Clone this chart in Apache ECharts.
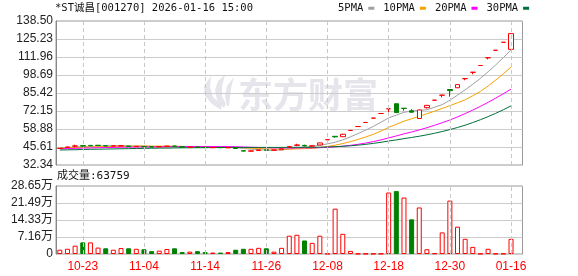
<!DOCTYPE html>
<html><head><meta charset="utf-8">
<script src="https://cdn.jsdelivr.net/npm/echarts@6/dist/echarts.min.js"></script>
<style>html,body{margin:0;padding:0;background:#fff}#c{width:578px;height:276px}</style>
</head><body><div id="c"></div>
<script>
const stockTitle = '*ST诚昌[001270] 2026-01-16 15:00';
const dates = [
 '10-20','10-21','10-22','10-23','10-24','10-27','10-28','10-29','10-30','10-31',
 '11-03','11-04','11-05','11-06','11-07','11-10','11-11','11-12','11-13','11-14',
 '11-17','11-18','11-19','11-20','11-21','11-24','11-25','11-26','11-27','11-28',
 '12-01','12-02','12-03','12-04','12-05','12-08','12-09','12-10','12-11','12-12',
 '12-15','12-16','12-17','12-18','12-19','12-22','12-23','12-24','12-25','12-26',
 '12-29','12-30','12-31','01-05','01-06','01-07','01-08','01-09','01-12','01-16'];
const opens = [
 44.5,45.3,46.2,46.6,46.8,46.9,46.5,46.3,46.4,46.3,
 45.9,46.0,45.8,45.7,46.0,46.3,45.8,45.4,45.6,45.4,
 45.1,45.3,45.0,45.1,42.9,42.5,43.0,43.5,43.2,43.6,
 45.6,46.8,46.8,46.3,47.1,51.0,53.5,53.2,57.8,60.7,
 63.7,66.9,70.3,73.8,77.5,74.2,72.3,66.6,74.6,80.1,
 83.8,88.0,89.3,96.0,100.7,105.7,111.4,116.9,122.8,117.6];
const closes = [
 44.7,45.6,46.4,46.3,46.6,46.7,46.4,46.5,46.6,46.0,
 46.1,45.8,45.6,46.0,46.3,46.1,45.5,45.6,45.4,45.2,
 45.3,45.1,45.2,44.5,42.6,42.8,43.4,43.2,43.5,44.3,
 45.9,47.1,46.4,46.5,48.6,51.0,53.1,55.0,57.8,60.7,
 63.7,66.9,70.3,73.8,71.0,74.0,71.3,72.9,76.3,80.1,
 83.8,87.2,91.6,96.0,100.7,105.7,111.4,116.9,122.8,129.2];
const lows = [
 44.3,45.0,45.4,45.9,46.2,46.5,46.2,46.2,46.3,45.8,
 45.8,45.6,45.5,45.6,45.9,45.9,45.4,45.3,45.3,45.1,
 45.0,45.0,44.9,44.3,42.4,42.2,42.9,43.0,43.1,43.5,
 45.2,46.2,46.0,46.0,47.0,51.0,52.5,53.0,57.8,60.7,
 63.7,66.9,70.3,70.6,70.9,72.4,71.0,66.5,74.0,80.1,
 82.2,82.7,89.0,94.8,99.2,105.7,110.2,116.9,122.8,117.6];
const highs = [
 44.9,45.9,47.3,47.0,47.1,47.0,46.7,46.7,46.8,46.4,
 46.3,46.1,45.9,46.1,46.4,46.6,45.9,45.8,45.7,45.5,
 45.4,45.4,45.3,45.2,43.1,42.9,43.6,43.6,43.7,44.5,
 46.4,48.0,47.3,46.8,48.8,51.0,53.6,55.3,57.8,60.7,
 63.7,66.9,70.3,73.8,77.5,74.4,73.4,73.0,76.5,80.1,
 83.8,88.0,91.7,96.0,100.7,105.7,111.4,116.9,122.8,129.2];
const volumes = [
 18000,22000,35000,49000,49000,27000,24000,18000,25000,24000,
 22000,20000,12000,14000,21000,24000,8000,10000,12000,8000,
 6000,6000,8000,18000,22000,22000,26000,24000,10000,26000,
 77000,81000,57000,47000,77000,1500,191000,85000,13000,1500,
 1200,1200,1200,259000,265000,238000,146000,196000,20000,3000,
 91000,225000,115000,64000,30000,1500,22000,1500,1500,63759];
// MA values for the first days (window not yet full)
const ma5Head = [45.0,45.3,45.6,45.8];
const ma10Head = [44.6,44.9,45.2,45.4,45.6,45.8,45.9,46.0,46.1];
const ma20Head = [44.3,44.4,44.6,44.8,44.9,45.1,45.2,45.3,45.5,45.5,45.6,45.7,45.7,45.8,45.8,45.9,45.9,46.0,46.0];
const ma30Head = [43.4,43.5,43.6,43.8,43.9,44.0,44.1,44.2,44.3,44.4,44.5,44.6,44.7,44.8,44.8,44.9,45.0,45.0,45.1,45.1,45.2,45.2,45.3,45.3,45.3,45.3,45.3,45.3,45.3];
const maNames = ['5PMA','10PMA','20PMA','30PMA'];
const priceTicks = [32.34,45.61,58.88,72.15,85.42,98.69,111.96,125.23,138.50];
const volTicks = [0,7.16,14.33,21.49,28.65];          // in 万
const volTickLabels = ['0','7.16万','14.33万','21.49万','28.65万'];
const labelDates = ['10-23','11-04','11-14','11-26','12-08','12-18','12-30','01-16'];

function movingAvg(n, head) {
  return closes.map((c, i) => {
    if (i < n - 1) return head[i];
    let s = 0;
    for (let k = i - n + 1; k <= i; k++) s += closes[k];
    return +(s / n).toFixed(2);
  });
}
const maData = [movingAvg(5, ma5Head), movingAvg(10, ma10Head), movingAvg(20, ma20Head), movingAvg(30, ma30Head)];
const maColors = ['#a0a0a0', '#f5a200', '#ff00ff', '#00703a'];

const cats = dates.concat(['']);
const candle = dates.map((d, i) => [opens[i], closes[i], lows[i], highs[i]]);
const RED = '#ff0000', GREEN = '#008000';
const volData = volumes.map((v, i) => {
  const up = i === 0 ? closes[i] >= opens[i] : closes[i] >= closes[i - 1];
  return { value: v, itemStyle: up ? { color: '#fff', borderColor: RED, borderWidth: 1 } : { color: GREEN, borderColor: GREEN, borderWidth: 1 } };
});

const pMin = priceTicks[0], pMax = priceTicks[priceTicks.length - 1];
const pInt = (pMax - pMin) / (priceTicks.length - 1);
const vMax = volTicks[volTicks.length - 1] * 10000;
const vInt = vMax / (volTicks.length - 1);

const mono = '"DejaVu Sans Mono", "Noto Sans CJK SC", monospace';
const sans = '"Liberation Sans", Arial, "Noto Sans CJK SC", sans-serif';
const dashLines = {
  silent: true, symbol: ['none', 'none'], label: { show: false },
  lineStyle: { color: '#c8c8c8', type: [4, 3], width: 1 },
  emphasis: { disabled: true },
  data: labelDates.map(d => ({ xAxis: d }))
};
const wmColor = '#e5e5eb';
const logoBands = [
  [[221,110],[212,104],[205,96],[204,86],[211,76],[210,87],[213,97],[222,105]],
  [[224,108],[217,100],[215,90],[218,81],[225,75],[222,86],[222,96],[226,104]],
  [[227,106],[225,96],[227,86],[234,77],[231,88],[230,97],[229,106]]
];

const chart = echarts.init(document.getElementById('c'), null, { renderer: 'canvas' });
chart.setOption({
  animation: false,
  backgroundColor: '#fff',
  title: [
    { text: stockTitle, left: 55, top: 3, padding: 0, textStyle: { fontSize: 10.5, fontWeight: 'normal', color: '#111', fontFamily: mono } },
    { text: '成交量:' + volumes[volumes.length - 1], left: 57, top: 171, padding: 0, textStyle: { fontSize: 11, fontWeight: 'normal', color: '#111', fontFamily: mono } }
  ],
  legend: {
    left: 338, top: 3, padding: 0, itemGap: 9, itemWidth: 6, itemHeight: 3, align: 'right',
    textStyle: { fontSize: 10.5, color: '#111', fontFamily: mono },
    data: maNames.map(n => ({ name: n, icon: 'rect' }))
  },
  graphic: {
    z: -1,
    elements: [
      { type: 'text', left: 238, top: 77, silent: true,
        style: { text: '东方财富', fontSize: 35, fontWeight: 'bold', fontFamily: '"Noto Sans CJK SC"', fill: wmColor } }
    ].concat(logoBands.map(pts => ({ type: 'polygon', silent: true, shape: { points: pts }, style: { fill: wmColor } })))
  },
  grid: [
    { left: 56, right: 55.5, top: 21, height: 144, show: true, borderColor: '#999', borderWidth: 1, backgroundColor: 'transparent' },
    { left: 56, right: 55.5, top: 186, height: 68, show: true, borderColor: '#999', borderWidth: 1, backgroundColor: 'transparent' }
  ],
  xAxis: [
    { type: 'category', gridIndex: 0, data: cats, boundaryGap: true,
      axisLine: { show: false }, axisTick: { show: false }, axisLabel: { show: false }, splitLine: { show: false } },
    { type: 'category', gridIndex: 1, data: cats, boundaryGap: true,
      axisLine: { show: false }, axisTick: { show: false }, splitLine: { show: false },
      axisLabel: { show: true, interval: (idx, val) => labelDates.indexOf(val) >= 0, color: RED, fontSize: 12, fontFamily: sans, margin: 7 } }
  ],
  yAxis: [
    { type: 'value', gridIndex: 0, min: pMin, max: pMax, interval: pInt,
      axisLine: { show: true, lineStyle: { color: '#888' } }, axisTick: { show: false },
      axisLabel: { color: '#222', fontSize: 12, fontFamily: sans, margin: 3,
        formatter: v => priceTicks[Math.round((v - pMin) / pInt)].toFixed(2) },
      splitLine: { show: true, lineStyle: { color: '#cccccc', width: 1 } } },
    { type: 'value', gridIndex: 1, min: 0, max: vMax, interval: vInt,
      axisLine: { show: true, lineStyle: { color: '#888' } }, axisTick: { show: false },
      axisLabel: { color: '#222', fontSize: 12, fontFamily: sans, margin: 3,
        formatter: v => volTickLabels[Math.round(v / vInt)] },
      splitLine: { show: true, lineStyle: { color: '#cccccc', width: 1 } } }
  ],
  series: [
    { name: 'grid-price', type: 'line', xAxisIndex: 0, yAxisIndex: 0, data: dates.map(() => null), z: 1, silent: true, markLine: dashLines },
    { name: 'grid-vol', type: 'line', xAxisIndex: 1, yAxisIndex: 1, data: dates.map(() => null), z: 1, silent: true, markLine: dashLines },
    ...maNames.map((n, k) => ({
      name: n, type: 'line', xAxisIndex: 0, yAxisIndex: 0, data: maData[k], showSymbol: false, symbol: 'none',
      lineStyle: { width: 1, color: maColors[k] }, itemStyle: { color: maColors[k] }, z: 2, silent: true
    })),
    { name: 'K', type: 'candlestick', xAxisIndex: 0, yAxisIndex: 0, data: candle, barWidth: 5, z: 3,
      itemStyle: { color: '#fff', color0: GREEN, borderColor: RED, borderColor0: GREEN, borderWidth: 1 } },
    { name: 'VOL', type: 'bar', xAxisIndex: 1, yAxisIndex: 1, data: volData, barWidth: 5, z: 3 }
  ]
});
</script>
</body></html>
